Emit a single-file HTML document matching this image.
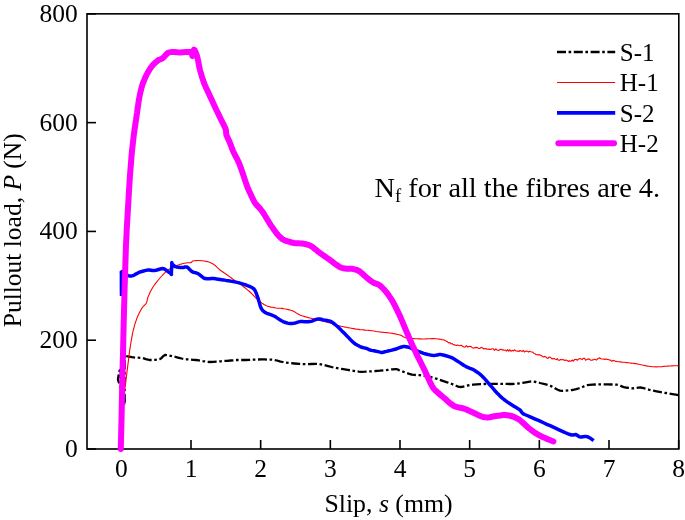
<!DOCTYPE html>
<html><head><meta charset="utf-8"><title>Pullout load vs slip</title>
<style>
html,body{margin:0;padding:0;background:#fff;}
body{width:685px;height:520px;overflow:hidden;position:relative;}
.t{font-family:"Liberation Serif","Times New Roman",serif;font-size:24px;fill:#000;}
.k{font-size:25.5px;}
.g{font-size:25px;}
.l{font-size:26px;}
</style></head><body>
<svg width="685" height="520" viewBox="0 0 685 520" style="position:absolute;left:0;top:0">
<rect x="0" y="0" width="685" height="520" fill="#fff"/>
<rect x="87.0" y="13.85" width="591.8" height="435.15" fill="none" stroke="#000" stroke-width="1.6"/>
<line x1="121.33" y1="449.0" x2="121.33" y2="440.0" stroke="#000" stroke-width="1.6"/>
<text x="121.33" y="477.0" text-anchor="middle" class="t k">0</text>
<line x1="191.00" y1="449.0" x2="191.00" y2="440.0" stroke="#000" stroke-width="1.6"/>
<text x="191.00" y="477.0" text-anchor="middle" class="t k">1</text>
<line x1="260.66" y1="449.0" x2="260.66" y2="440.0" stroke="#000" stroke-width="1.6"/>
<text x="260.66" y="477.0" text-anchor="middle" class="t k">2</text>
<line x1="330.33" y1="449.0" x2="330.33" y2="440.0" stroke="#000" stroke-width="1.6"/>
<text x="330.33" y="477.0" text-anchor="middle" class="t k">3</text>
<line x1="400.00" y1="449.0" x2="400.00" y2="440.0" stroke="#000" stroke-width="1.6"/>
<text x="400.00" y="477.0" text-anchor="middle" class="t k">4</text>
<line x1="469.67" y1="449.0" x2="469.67" y2="440.0" stroke="#000" stroke-width="1.6"/>
<text x="469.67" y="477.0" text-anchor="middle" class="t k">5</text>
<line x1="539.33" y1="449.0" x2="539.33" y2="440.0" stroke="#000" stroke-width="1.6"/>
<text x="539.33" y="477.0" text-anchor="middle" class="t k">6</text>
<line x1="609.00" y1="449.0" x2="609.00" y2="440.0" stroke="#000" stroke-width="1.6"/>
<text x="609.00" y="477.0" text-anchor="middle" class="t k">7</text>
<line x1="678.67" y1="449.0" x2="678.67" y2="440.0" stroke="#000" stroke-width="1.6"/>
<text x="678.67" y="477.0" text-anchor="middle" class="t k">8</text>
<line x1="87.0" y1="449.00" x2="96.0" y2="449.00" stroke="#000" stroke-width="1.6"/>
<text x="77.8" y="457.00" text-anchor="end" class="t k">0</text>
<line x1="87.0" y1="340.21" x2="96.0" y2="340.21" stroke="#000" stroke-width="1.6"/>
<text x="77.8" y="348.21" text-anchor="end" class="t k">200</text>
<line x1="87.0" y1="231.43" x2="96.0" y2="231.43" stroke="#000" stroke-width="1.6"/>
<text x="77.8" y="239.43" text-anchor="end" class="t k">400</text>
<line x1="87.0" y1="122.64" x2="96.0" y2="122.64" stroke="#000" stroke-width="1.6"/>
<text x="77.8" y="130.64" text-anchor="end" class="t k">600</text>
<line x1="87.0" y1="13.85" x2="96.0" y2="13.85" stroke="#000" stroke-width="1.6"/>
<text x="77.8" y="21.85" text-anchor="end" class="t k">800</text>
<polyline points="120.8,378.0 120.8,375.9 120.8,372.5 120.7,369.3 120.5,368.0 120.0,369.5 119.1,372.8 118.4,376.5 118.0,379.0 118.2,380.6 118.8,382.2 119.5,383.7 120.0,385.0 120.4,386.4 121.0,388.2 121.5,390.1 122.0,392.0 122.6,395.0 123.4,399.4 124.1,403.3 124.6,405.0 124.7,403.5 124.7,400.0 124.6,395.8 124.6,392.0 124.6,387.4 124.6,381.1 124.6,374.6 124.6,370.0 124.6,366.2 124.7,361.9 124.8,358.1 124.8,355.8 124.7,355.1 124.4,355.1 124.4,355.5 124.8,355.8 126.4,356.1 129.1,356.6 131.9,357.1 134.0,357.4 135.8,357.6 138.1,357.7 140.2,357.8 142.0,358.0 143.7,358.4 145.9,359.1 148.1,359.7 150.0,360.0 152.2,360.0 155.1,359.8 158.0,359.4 160.0,359.0 161.3,358.2 162.5,356.9 163.8,355.7 165.0,355.0 166.8,355.1 169.3,355.5 171.9,356.1 174.0,356.6 176.1,357.1 178.9,357.8 181.7,358.5 184.0,359.0 186.5,359.3 189.8,359.5 193.2,359.8 196.0,360.0 199.0,360.4 202.9,361.1 206.9,361.7 210.0,362.0 213.1,361.9 217.0,361.6 220.9,361.3 224.0,361.0 227.0,360.8 230.7,360.5 234.3,360.2 237.0,360.0 239.0,360.0 241.3,360.0 243.6,360.0 245.8,360.0 249.0,359.9 253.5,359.7 258.0,359.5 261.5,359.4 264.6,359.4 268.3,359.6 271.9,359.7 274.7,360.0 277.0,360.5 279.7,361.3 282.5,362.0 285.2,362.6 288.9,363.0 294.2,363.5 299.5,363.9 303.6,364.1 307.2,364.1 311.6,364.0 315.9,363.9 319.3,364.1 322.8,364.8 327.2,365.8 331.6,367.0 335.1,367.8 338.7,368.5 343.2,369.2 347.7,369.9 350.9,370.4 353.4,370.8 356.0,371.3 358.8,371.6 361.4,371.8 365.1,371.7 370.4,371.4 375.7,371.0 379.8,370.7 383.6,370.3 388.3,369.8 392.6,369.3 395.5,369.1 396.9,369.2 397.9,369.6 398.8,370.1 400.0,370.6 402.3,371.4 405.8,372.6 409.3,373.8 412.0,374.6 414.3,374.9 417.1,375.1 419.8,375.2 422.0,375.4 424.2,375.8 427.0,376.3 429.8,376.9 432.0,377.4 434.2,378.0 437.0,378.9 439.8,379.9 442.0,380.6 444.3,381.4 447.1,382.3 449.9,383.3 452.0,384.0 453.8,384.8 456.0,385.7 458.2,386.6 460.0,387.0 462.1,386.8 464.7,386.2 467.6,385.5 470.0,385.0 472.9,384.7 476.7,384.4 480.7,384.2 484.0,384.0 487.5,383.9 492.1,383.8 496.6,383.8 500.0,383.8 502.9,383.8 506.3,383.9 509.5,384.0 512.0,384.0 514.3,383.8 517.1,383.6 519.8,383.3 522.0,383.0 524.3,382.6 527.1,382.1 529.9,381.6 532.0,381.4 533.8,381.6 536.0,382.0 538.2,382.5 540.0,383.0 542.1,383.5 544.9,384.2 547.7,384.9 550.0,385.6 552.2,386.7 554.9,388.2 557.7,389.7 560.0,390.6 562.6,390.8 566.1,390.6 569.5,390.3 572.0,390.0 574.0,389.6 576.2,389.1 578.3,388.5 580.0,388.0 581.6,387.4 583.6,386.5 585.6,385.6 587.4,385.1 589.5,384.8 592.4,384.6 595.5,384.5 598.3,384.4 602.2,384.4 607.6,384.4 613.0,384.5 616.6,384.7 618.7,385.1 620.7,385.9 622.4,386.6 623.9,387.1 625.9,387.5 628.5,387.9 631.0,388.2 633.0,388.4 634.6,388.2 636.6,387.9 638.5,387.6 640.3,387.5 642.5,387.9 645.6,388.7 648.7,389.6 651.2,390.2 653.5,390.7 656.5,391.3 659.5,391.9 662.2,392.4 665.8,393.0 670.9,393.8 675.7,394.6 678.6,395.1" fill="none" stroke="#000" stroke-width="2.3" stroke-dasharray="9 2.6 2.6 2.6" stroke-linejoin="round"/>
<polyline points="121.3,400.0 121.8,398.9 122.7,397.4 123.6,394.8 124.5,391.0 125.6,383.5 126.9,372.6 128.3,361.6 129.2,354.0 129.7,350.2 130.1,347.8 130.4,346.0 130.7,344.0 131.2,340.9 131.9,337.1 132.6,333.2 133.3,330.0 134.1,327.1 135.0,323.8 136.1,320.6 137.0,318.0 138.1,315.5 139.5,312.6 140.9,310.0 142.0,308.0 143.1,306.6 144.4,305.3 145.6,304.1 146.4,303.0 146.9,301.7 147.2,300.2 147.5,298.6 148.0,297.0 148.9,294.9 150.2,292.1 151.7,289.3 153.0,287.0 154.5,284.8 156.3,282.4 158.3,280.0 160.0,278.0 161.8,276.0 162.8,274.9 163.8,273.8 164.9,272.7 166.0,271.7 168.0,270.0 169.1,269.3 170.2,268.6 171.6,267.9 173.0,267.2 174.4,266.6 175.8,265.9 176.9,265.5 178.0,265.0 179.0,264.7 180.0,264.3 181.1,264.1 182.2,263.8 183.3,263.5 184.4,263.3 186.0,263.0 187.4,262.8 188.8,262.8 190.1,262.7 191.0,262.6 191.5,262.3 191.9,261.8 192.3,261.3 193.0,261.0 194.3,260.8 196.2,260.6 197.2,260.5 198.2,260.5 200.0,260.5 201.8,260.7 202.9,260.8 204.1,261.0 205.1,261.2 206.2,261.4 208.0,261.8 209.5,262.3 211.1,263.0 212.6,263.8 214.0,264.6 215.4,265.7 216.9,267.2 218.5,268.7 220.0,270.0 221.8,271.3 222.9,272.0 224.0,272.8 225.1,273.5 226.2,274.3 228.0,275.5 229.5,276.6 231.1,277.8 232.6,279.0 234.0,280.0 235.3,280.9 236.8,281.8 238.4,282.9 240.0,284.0 241.1,284.8 242.1,285.6 243.5,286.7 244.9,287.8 246.3,288.9 247.7,290.1 248.9,291.0 250.0,292.0 252.0,293.9 253.0,295.0 254.1,296.1 255.1,297.2 256.2,298.3 258.0,300.0 259.8,301.5 260.9,302.3 261.9,303.1 263.0,303.8 264.0,304.5 266.0,305.6 267.1,306.0 268.3,306.4 269.7,306.7 271.1,307.1 272.5,307.3 273.9,307.6 274.9,307.8 276.0,308.0 277.5,308.2 279.0,308.2 280.5,308.2 282.0,308.4 283.1,308.6 284.1,308.8 285.5,309.0 286.9,309.3 288.3,309.6 289.7,309.9 290.9,310.3 292.0,310.6 293.9,311.5 295.0,312.1 296.0,312.8 297.0,313.4 298.1,314.0 300.0,315.0 301.1,315.4 302.2,315.8 303.5,316.2 304.9,316.6 306.3,317.0 307.6,317.4 308.8,317.7 310.0,318.0 311.2,318.3 312.3,318.6 313.7,318.9 315.0,319.2 316.3,319.5 317.7,319.8 318.8,320.1 320.0,320.4 321.2,320.7 322.3,321.0 323.7,321.3 325.0,321.7 326.3,322.0 327.7,322.4 328.8,322.7 330.0,323.0 331.2,323.3 332.3,323.7 333.7,324.1 335.0,324.5 336.3,324.9 337.7,325.4 338.8,325.7 340.0,326.0 341.2,326.3 342.3,326.5 343.7,326.8 345.0,327.1 346.3,327.3 347.7,327.6 348.8,327.8 350.0,328.0 351.2,328.2 352.3,328.4 353.7,328.6 355.0,328.9 356.3,329.1 357.7,329.3 358.8,329.4 360.0,329.6 361.2,329.7 362.3,329.8 363.7,329.9 365.0,330.1 366.3,330.2 367.7,330.3 368.8,330.4 370.0,330.5 371.2,330.7 372.3,330.8 373.7,331.0 375.0,331.2 376.3,331.5 377.7,331.7 378.8,331.8 380.0,332.0 381.2,332.1 382.3,332.2 383.7,332.4 385.0,332.5 386.3,332.6 387.7,332.7 388.8,332.9 390.0,333.0 391.2,333.2 392.4,333.4 393.8,333.7 395.2,333.9 396.6,334.2 398.0,334.5 399.0,334.7 400.0,335.0 401.4,335.6 402.6,336.3 403.7,337.1 405.0,337.6 406.8,337.9 408.0,338.1 409.2,338.2 410.5,338.3 411.8,338.4 412.9,338.5 414.0,338.6 415.1,338.7 416.3,338.7 417.6,338.8 418.9,338.9 420.3,338.9 421.7,339.0 422.8,339.0 424.0,339.0 425.2,339.0 426.3,338.9 427.7,338.8 429.0,338.8 430.3,338.7 431.7,338.6 432.8,338.6 434.0,338.6 435.2,338.7 436.4,338.8 437.8,339.0 439.2,339.1 440.6,339.3 441.9,339.6 443.0,339.8 444.0,340.0 445.5,340.8 447.0,341.4 448.5,342.9 450.0,342.5 451.0,344.0 452.1,343.6 453.4,344.6 454.8,344.9 456.2,345.5 457.6,345.1 458.8,345.5 460.0,345.7 461.2,345.2 462.3,346.0 463.7,347.0 465.0,347.1 466.3,345.7 467.7,347.0 468.8,346.5 470.0,346.3 471.2,346.5 472.3,347.8 473.7,348.2 475.0,347.6 476.3,347.4 477.7,347.8 478.8,348.5 480.0,348.4 481.2,347.3 482.3,347.7 483.7,349.0 485.0,348.5 486.3,348.9 487.7,349.3 488.8,349.1 490.0,349.4 491.1,349.2 492.1,348.7 493.3,348.8 494.5,350.4 495.8,348.8 497.1,350.1 498.6,350.6 500.0,349.5 501.1,349.2 502.1,349.9 503.2,349.9 504.2,350.2 505.3,350.1 506.5,351.1 507.6,349.7 508.8,351.2 509.9,349.7 511.0,351.3 512.2,350.3 513.3,351.0 514.5,349.8 515.6,350.7 516.7,351.1 517.8,351.1 518.9,351.5 520.0,350.4 521.1,350.9 522.2,351.4 523.3,350.4 524.4,352.0 525.5,351.3 526.6,351.1 527.6,351.2 528.6,352.1 529.6,351.2 530.8,351.7 532.0,352.0 533.0,352.3 534.0,353.5 535.0,353.7 536.0,354.7 537.0,354.8 538.0,354.5 539.0,354.9 540.0,354.9 541.3,355.5 542.5,356.5 543.6,357.0 544.6,356.4 545.7,356.8 546.8,357.9 547.9,358.4 549.0,357.1 550.5,357.3 552.0,358.9 553.1,358.6 554.2,358.6 555.3,359.2 556.3,359.6 557.3,358.5 558.3,360.2 559.3,360.3 560.6,359.5 561.9,359.8 563.2,359.6 564.6,360.4 566.0,359.9 567.6,360.7 568.7,361.5 569.7,360.8 571.0,361.3 572.1,360.0 573.2,361.1 574.7,359.5 576.2,359.4 577.2,360.2 578.3,359.3 579.3,358.8 580.7,358.6 582.0,359.7 583.3,358.3 584.6,358.4 585.6,360.1 586.6,359.8 587.6,359.1 589.1,358.9 590.6,360.2 591.8,360.1 593.0,359.9 594.1,359.5 595.2,359.4 596.3,360.1 597.5,359.0 598.7,358.1 599.8,357.9 600.9,358.8 602.0,359.0 603.2,359.0 604.4,359.4 605.9,359.0 607.3,359.4 608.3,359.5 609.3,360.0 610.3,360.0 611.7,361.3 613.0,360.4 614.4,360.7 615.9,361.4 617.0,361.5 618.2,361.7 619.4,361.8 620.5,361.9 621.7,362.1 622.8,362.2 624.3,362.3 625.7,362.5 627.0,362.6 628.3,362.8 629.8,363.0 631.2,363.1 632.7,363.3 634.1,363.4 635.4,363.6 636.6,363.8 637.9,364.1 639.2,364.3 640.2,364.5 641.2,364.8 642.2,365.0 643.7,365.3 645.2,365.6 646.4,365.9 647.6,366.1 648.7,366.2 649.8,366.4 651.0,366.5 652.1,366.7 653.3,366.7 654.5,366.8 655.6,366.9 656.7,366.9 657.9,366.8 659.1,366.8 660.6,366.7 662.1,366.6 663.1,366.5 664.1,366.4 665.1,366.3 666.4,366.2 667.7,366.1 669.1,366.0 670.4,366.0 671.5,365.9 672.6,365.9 673.7,365.8 675.2,365.7 676.7,365.7 678.6,365.6" fill="none" stroke="#ff0000" stroke-width="1.1" stroke-linejoin="round"/>
<polyline points="121.5,296.0 121.5,293.7 121.4,290.0 121.4,286.1 121.4,283.0 121.4,280.2 121.4,277.1 121.4,274.3 121.4,272.5 121.4,271.9 121.3,272.0 121.3,272.4 121.4,272.5 121.6,272.2 122.0,271.8 122.4,271.5 123.0,271.5 124.0,272.2 125.3,273.5 126.8,274.8 128.0,275.6 129.1,275.9 130.4,276.0 131.8,275.9 133.0,275.6 134.3,275.0 135.8,274.1 137.4,273.2 139.0,272.4 141.0,271.7 143.5,271.0 146.0,270.4 148.0,270.0 149.5,270.0 151.0,270.3 152.5,270.6 154.0,270.6 156.0,270.2 158.6,269.5 161.1,268.8 163.0,268.6 164.4,269.0 165.8,269.9 167.0,270.9 168.0,271.6 168.9,272.2 169.9,272.9 170.8,273.4 171.3,273.8 171.5,274.1 171.4,274.4 171.3,274.4 171.3,273.8 171.4,271.8 171.6,268.6 171.8,265.4 171.9,263.4 171.9,262.8 171.8,262.7 171.7,263.0 171.9,263.4 172.4,264.0 173.1,264.9 174.0,265.8 175.0,266.5 176.4,266.9 178.4,267.2 180.4,267.5 182.0,267.6 183.3,267.5 184.6,267.1 185.9,266.9 187.0,267.0 188.1,267.8 189.4,269.2 190.8,270.6 192.0,271.6 193.3,272.2 194.9,272.6 196.5,273.0 198.0,273.6 199.5,274.7 201.3,276.2 203.2,277.7 205.0,278.6 206.9,278.8 209.2,278.8 211.7,278.6 214.0,278.6 216.6,278.9 219.9,279.4 223.2,279.9 226.0,280.4 228.6,280.8 231.7,281.4 234.6,281.9 237.0,282.4 239.2,282.9 241.7,283.6 244.0,284.3 246.0,285.0 248.0,285.8 250.2,286.7 252.4,287.8 254.0,289.0 255.2,290.8 256.2,293.2 257.2,295.8 258.0,298.0 258.7,300.4 259.5,303.2 260.3,306.0 261.0,308.0 261.8,309.3 262.7,310.5 263.8,311.5 265.0,312.4 266.8,313.3 269.3,314.2 271.9,315.1 274.0,316.0 275.9,317.1 278.1,318.6 280.2,320.0 282.0,321.0 283.7,321.8 285.6,322.5 287.5,323.1 289.0,323.4 290.5,323.5 292.1,323.4 293.7,323.2 295.0,323.0 296.1,322.7 297.3,322.3 298.6,321.9 300.0,321.6 302.1,321.6 304.9,321.7 307.7,321.7 310.0,321.6 312.0,321.1 314.2,320.2 316.3,319.4 318.0,319.0 319.5,319.0 321.1,319.3 322.6,319.7 324.0,320.0 325.6,320.3 327.4,320.6 329.4,321.0 331.0,321.6 332.6,322.6 334.4,324.0 336.3,325.5 338.0,327.0 339.8,328.7 341.9,330.9 344.1,333.1 346.0,335.0 347.9,336.9 350.1,339.2 352.2,341.4 354.0,343.0 355.7,344.2 357.6,345.3 359.5,346.3 361.0,347.0 362.5,347.5 364.2,347.9 365.8,348.3 367.0,348.6 367.8,348.9 368.4,349.3 369.1,349.7 370.0,350.0 371.6,350.4 373.9,350.8 376.3,351.3 378.0,351.6 379.1,351.9 380.1,352.1 381.0,352.4 382.0,352.4 383.2,352.2 384.8,351.8 386.5,351.4 388.0,351.0 389.8,350.6 391.9,350.1 394.2,349.5 396.0,349.0 397.7,348.4 399.6,347.7 401.5,347.0 403.0,346.6 404.4,346.6 406.0,346.7 407.6,347.0 409.0,347.4 410.5,348.0 412.3,348.8 414.2,349.7 416.0,350.5 418.2,351.3 421.0,352.3 423.7,353.3 426.0,354.0 428.0,354.5 430.1,354.9 432.2,355.2 434.0,355.4 435.6,355.3 437.4,354.9 439.2,354.6 441.0,354.6 443.2,355.0 446.0,355.8 448.8,356.6 451.0,357.4 452.8,358.2 454.6,359.3 456.4,360.4 458.0,361.4 459.8,362.6 461.9,364.0 464.1,365.5 466.0,366.6 467.8,367.4 470.0,368.3 472.2,369.1 474.0,370.0 475.8,371.2 478.0,372.7 480.2,374.4 482.0,376.0 483.9,377.9 486.1,380.4 488.2,382.9 490.0,385.0 491.7,386.9 493.6,389.1 495.4,391.3 497.0,393.0 498.6,394.6 500.4,396.4 502.3,398.1 504.0,399.5 505.8,400.8 507.9,402.3 510.1,403.8 512.0,405.0 513.9,406.2 516.2,407.6 518.4,408.9 520.0,410.0 520.9,410.9 521.4,411.9 522.1,412.8 523.0,413.6 524.7,414.5 527.1,415.5 529.6,416.6 532.0,417.6 534.6,418.8 537.8,420.2 541.2,421.7 544.0,423.0 546.8,424.3 550.1,425.7 553.3,427.2 556.0,428.4 558.5,429.6 561.3,430.9 564.0,432.1 566.0,433.0 567.6,433.7 569.3,434.3 570.8,434.7 572.0,435.0 573.0,435.0 574.1,434.8 575.1,434.6 576.0,434.6 576.9,435.1 577.9,435.8 579.0,436.6 580.0,437.0 581.3,437.0 583.0,436.7 584.7,436.5 586.0,436.4 587.0,436.6 588.1,437.0 589.1,437.5 590.0,438.0 590.9,438.6 592.0,439.4 593.0,440.1 593.6,440.6" fill="none" stroke="#0000ff" stroke-width="3.5" stroke-linejoin="round" stroke-linecap="butt"/>
<polyline points="120.8,449.0 120.9,444.1 121.1,436.5 121.3,427.9 121.5,420.0 121.7,411.3 121.9,400.3 122.1,389.2 122.3,380.0 122.5,371.8 122.7,362.8 123.0,353.6 123.2,345.0 123.4,335.2 123.7,323.1 124.0,310.6 124.3,300.0 124.6,289.0 125.0,275.9 125.4,263.4 125.7,254.0 125.9,247.2 126.2,240.9 126.5,235.1 126.7,230.0 127.0,224.5 127.4,218.2 127.8,211.8 128.1,206.0 128.5,199.8 128.9,192.2 129.4,184.6 129.8,178.0 130.3,171.2 131.0,163.1 131.6,155.2 132.2,149.0 132.8,143.9 133.4,138.5 134.0,133.7 134.5,130.0 134.9,127.3 135.3,124.8 135.6,122.4 136.0,120.0 136.4,117.0 137.0,113.1 137.5,109.2 138.0,106.0 138.4,103.1 138.9,99.9 139.5,96.7 140.0,94.0 140.6,91.4 141.4,88.3 142.2,85.4 143.0,83.0 143.9,80.8 144.9,78.3 146.0,76.0 147.0,74.0 148.1,72.0 149.4,69.8 150.8,67.7 152.0,66.0 153.3,64.5 155.0,62.9 156.7,61.5 158.0,60.4 159.2,59.7 160.5,59.2 161.8,58.7 163.0,58.0 164.2,56.8 165.7,55.1 167.3,53.4 169.0,52.4 171.3,52.1 174.2,52.1 177.4,52.3 180.0,52.4 182.7,52.2 186.0,52.0 189.0,51.9 191.0,52.0 191.9,52.9 192.2,54.3 192.2,55.6 192.4,56.0 192.7,54.9 193.1,52.7 193.5,50.6 194.0,49.6 194.6,50.2 195.4,51.8 196.3,53.9 197.0,56.0 197.7,58.8 198.5,62.7 199.2,66.7 200.0,70.0 200.9,73.1 201.9,76.6 203.0,80.1 204.0,83.0 205.1,85.6 206.4,88.5 207.8,91.4 209.0,94.0 210.3,96.9 212.0,100.4 213.6,104.0 215.0,107.0 216.4,110.0 218.1,113.4 219.7,116.8 221.0,119.5 222.2,121.9 223.6,124.6 224.8,127.1 225.6,129.0 226.0,130.6 226.1,132.1 226.2,133.6 226.4,135.0 227.0,136.5 227.9,138.3 228.8,140.2 229.6,142.0 230.3,143.9 231.2,146.2 232.1,148.7 233.0,151.0 234.3,153.6 236.0,156.9 237.7,160.2 239.0,163.0 240.0,165.6 241.1,168.5 242.1,171.4 243.0,174.0 243.9,176.8 245.0,180.1 246.1,183.4 247.0,186.0 247.9,188.3 249.0,190.7 250.1,193.0 251.0,195.0 251.9,197.0 253.0,199.2 254.0,201.3 255.0,203.0 256.1,204.4 257.5,205.9 258.9,207.3 260.0,208.5 260.9,209.7 261.9,211.0 263.0,212.5 264.0,214.0 265.2,216.0 266.8,218.7 268.5,221.5 270.0,224.0 271.8,226.6 274.0,229.8 276.2,232.8 278.0,235.0 279.4,236.5 280.9,237.9 282.4,239.1 284.0,240.0 286.1,240.9 288.9,241.7 291.7,242.5 294.0,243.0 296.2,243.2 298.6,243.3 301.0,243.4 303.0,243.6 304.9,244.0 307.0,244.5 309.1,245.2 311.0,246.0 313.0,247.4 315.4,249.3 317.8,251.3 320.0,253.0 322.3,254.6 325.0,256.5 327.7,258.4 330.0,260.0 332.2,261.6 334.7,263.6 337.1,265.3 339.0,266.6 340.5,267.4 342.1,267.9 343.6,268.3 345.0,268.6 346.6,268.7 348.4,268.7 350.4,268.7 352.0,268.8 353.6,269.1 355.5,269.6 357.4,270.2 359.0,271.0 360.6,272.2 362.5,273.8 364.4,275.6 366.0,277.0 367.6,278.3 369.5,279.8 371.4,281.3 373.0,282.4 374.6,283.2 376.5,283.8 378.4,284.6 380.0,285.5 381.6,287.0 383.6,289.0 385.4,291.1 387.0,293.0 388.4,294.9 390.0,297.3 391.6,299.7 393.0,302.0 394.4,304.6 396.0,307.8 397.6,311.1 399.0,314.0 400.4,317.1 402.0,320.9 403.6,324.7 405.0,328.0 406.4,331.3 408.0,335.0 409.6,338.8 411.0,342.0 412.4,345.2 414.1,348.8 415.7,352.3 417.0,355.0 418.0,357.1 419.1,359.2 420.1,361.2 421.0,363.0 421.9,364.8 422.9,366.9 424.0,369.0 425.0,371.0 426.1,373.5 427.5,376.6 428.9,379.6 430.0,382.0 430.9,383.8 431.8,385.6 432.8,387.4 434.0,389.0 435.8,390.8 438.1,392.9 440.7,395.1 443.0,397.0 445.4,399.1 448.4,401.8 451.5,404.3 454.0,406.0 456.4,406.9 459.1,407.5 461.7,408.0 464.0,408.6 466.4,409.5 469.1,410.8 471.8,412.0 474.0,413.0 476.0,413.9 478.2,415.0 480.3,415.9 482.0,416.6 483.5,417.0 485.0,417.2 486.5,417.4 488.0,417.4 489.7,417.2 491.8,416.8 494.1,416.3 496.0,416.0 498.0,415.7 500.5,415.4 503.0,415.1 505.0,415.0 506.9,415.2 509.1,415.5 511.2,416.0 513.0,416.5 514.7,417.2 516.5,418.1 518.3,419.1 520.0,420.2 521.8,421.7 524.0,423.7 526.1,425.8 528.0,427.5 529.9,429.0 532.0,430.6 534.1,432.2 536.0,433.4 537.8,434.5 539.9,435.6 542.1,436.7 544.0,437.6 546.3,438.6 549.1,439.7 551.7,440.7 553.4,441.4" fill="none" stroke="#ff00ff" stroke-width="6" stroke-linejoin="round" stroke-linecap="round"/>
<line x1="557" y1="52" x2="615.2" y2="52" stroke="#000" stroke-width="2.3" stroke-dasharray="9 2.6 2.6 2.6"/>
<line x1="557" y1="82.45" x2="615.2" y2="82.45" stroke="#ff0000" stroke-width="1.1"/>
<line x1="557" y1="112.95" x2="615.2" y2="112.95" stroke="#0000ff" stroke-width="3.8"/>
<line x1="558.4" y1="143.3" x2="614" y2="143.3" stroke="#ff00ff" stroke-width="6" stroke-linecap="round"/>
<text x="619.8" y="60.9" class="t g">S-1</text>
<text x="619.8" y="91.4" class="t g">H-1</text>
<text x="619.8" y="121.9" class="t g">S-2</text>
<text x="619.8" y="152.2" class="t g">H-2</text>
<text x="374.5" y="196.6" class="t" style="font-size:28.35px">N<tspan dy="5" font-size="18.5">f</tspan><tspan dy="-5"> for all the fibres are 4.</tspan></text>
<text x="324.4" y="512" class="t l" style="font-size:25.8px">Slip, <tspan font-style="italic">s</tspan> (mm)</text>
<text transform="translate(21.3,327.3) rotate(-90)" class="t l" style="font-size:25.5px">Pullout load, <tspan font-style="italic">P</tspan> (N)</text>
</svg>
</body></html>
